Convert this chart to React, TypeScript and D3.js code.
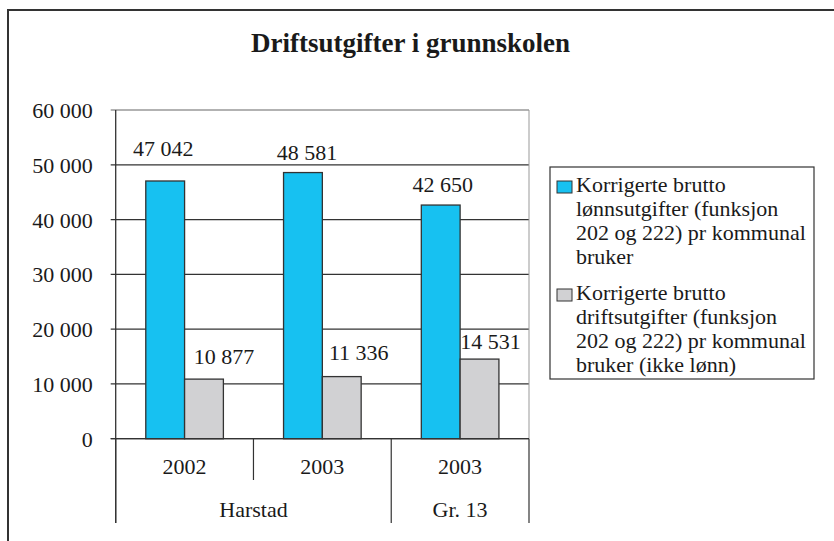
import React from "react";
import * as d3 from "d3";

const title = "Driftsutgifter i grunnskolen";
const categories = ["2002", "2003", "2003"];
const groups = ["Harstad", "Harstad", "Gr. 13"];
const seriesNames = [
  ["Korrigerte brutto", "lønnsutgifter (funksjon", "202 og 222) pr kommunal", "bruker"],
  ["Korrigerte brutto", "driftsutgifter (funksjon", "202 og 222) pr kommunal", "bruker (ikke lønn)"],
];
const lonn = [47042, 48581, 42650];
const drift = [10877, 11336, 14531];
const yTicks = [0, 10000, 20000, 30000, 40000, 50000, 60000];

// label nudges (dx, dy relative to bar centre / top) as placed in the original
const lonnLabelNudge = [[-2, -25], [4, -13], [2, -13]];
const driftLabelNudge = [[20, -15], [17, -17], [11, -10]];

const colors = ["#17C1F1", "#D1D1D3"];
const FONT = "'Liberation Serif', 'Times New Roman', serif";

export default function App() {
  const W = 834, H = 541;
  const left = 115.7, right = 529, top = 110, bottom = 438.7;
  const idx = d3.range(categories.length);
  const x0 = d3.scaleBand<number>().domain(idx).range([left, right]).paddingInner(0).paddingOuter(0);
  const x1 = d3.scaleBand<number>().domain([0, 1]).range([0, x0.bandwidth()]).paddingInner(0).paddingOuter(0.775);
  const y = d3.scaleLinear().domain([0, 60000]).range([bottom, top]);
  const fmt = d3.formatLocale({ thousands: " ", grouping: [3], decimal: ",", currency: ["", ""] }).format(",");
  const series = [lonn, drift];
  const nudges = [lonnLabelNudge, driftLabelNudge];

  // group spans
  const spans: { name: string; start: number; end: number }[] = [];
  groups.forEach((g, i) => {
    const last = spans[spans.length - 1];
    if (last && last.name === g) last.end = i;
    else spans.push({ name: g, start: i, end: i });
  });
  const groupBoundaries = new Set<number>();
  spans.forEach((s) => { groupBoundaries.add(s.start); groupBoundaries.add(s.end + 1); });

  const legendX = 550, legendY = 167, legendW = 264, legendH = 212;
  const entryBase = [192, 300];
  const lineH = 24;

  return (
    <svg width={W} height={H} style={{ position: "absolute", left: 0, top: 0, background: "#fff" }} fontFamily={FONT}>
      <rect x={0} y={0} width={W} height={H} fill="#fff" />
      <rect x={8} y={10} width={900} height={700} fill="none" stroke="#333" strokeWidth={2} />
      <text x={410.5} y={51.7} textAnchor="middle" fontSize={27} fontWeight="bold" fill="#1a1a1a">{title}</text>

      {/* gridlines */}
      {yTicks.map((t) => (
        <line key={"g" + t} x1={left - 5} x2={right} y1={y(t)} y2={y(t)} stroke={t === 60000 ? "#666" : "#333"} strokeWidth={1.2} />
      ))}
      {yTicks.map((t) => (
        <text key={"t" + t} x={92.7} y={y(t) + 8} textAnchor="end" fontSize={22} fill="#1a1a1a">{fmt(t)}</text>
      ))}
      <line x1={right} x2={right} y1={top} y2={bottom} stroke="#999" strokeWidth={1} />

      {/* bars */}
      {idx.map((i) => (
        <g key={"c" + i} transform={`translate(${x0(i)},0)`}>
          {series.map((s, k) => (
            <rect key={k} x={x1(k)} y={y(s[i])} width={x1.bandwidth()} height={bottom - y(s[i])}
              fill={colors[k]} stroke="#333" strokeWidth={1.3} />
          ))}
        </g>
      ))}
      {idx.map((i) =>
        series.map((s, k) => (
          <text key={"l" + i + k} x={(x0(i) as number) + (x1(k) as number) + x1.bandwidth() / 2 + nudges[k][i][0]}
            y={y(s[i]) + nudges[k][i][1]} textAnchor="middle" fontSize={22} fill="#1a1a1a">{fmt(s[i])}</text>
        ))
      )}

      {/* y axis */}
      <line x1={left} x2={left} y1={top} y2={523} stroke="#333" strokeWidth={1.3} />
      <line x1={left - 5} x2={right} y1={bottom} y2={bottom} stroke="#333" strokeWidth={1.3} />

      {/* category axis */}
      {d3.range(categories.length + 1).map((b) => {
        const xb = b < categories.length ? (x0(b) as number) : right;
        const long = groupBoundaries.has(b);
        return <line key={"d" + b} x1={xb} x2={xb} y1={bottom} y2={long ? 523 : 480} stroke="#333" strokeWidth={1.2} />;
      })}
      {idx.map((i) => (
        <text key={"cl" + i} x={(x0(i) as number) + x0.bandwidth() / 2} y={474.3} textAnchor="middle" fontSize={22} fill="#1a1a1a">{categories[i]}</text>
      ))}
      {spans.map((s) => (
        <text key={"gl" + s.start} x={((x0(s.start) as number) + (x0(s.end) as number) + x0.bandwidth()) / 2} y={516.7}
          textAnchor="middle" fontSize={22} fill="#1a1a1a">{s.name}</text>
      ))}

      {/* legend */}
      <rect x={legendX} y={legendY} width={legendW} height={legendH} fill="#fff" stroke="#333" strokeWidth={1.2} />
      {seriesNames.map((lines, k) => (
        <g key={"lg" + k}>
          <rect x={557} y={entryBase[k] - 11} width={15} height={12} fill={colors[k]} stroke="#333" strokeWidth={1} />
          {lines.map((ln, j) => (
            <text key={j} x={576} y={entryBase[k] + j * lineH} fontSize={22} fill="#1a1a1a">{ln}</text>
          ))}
        </g>
      ))}
    </svg>
  );
}
